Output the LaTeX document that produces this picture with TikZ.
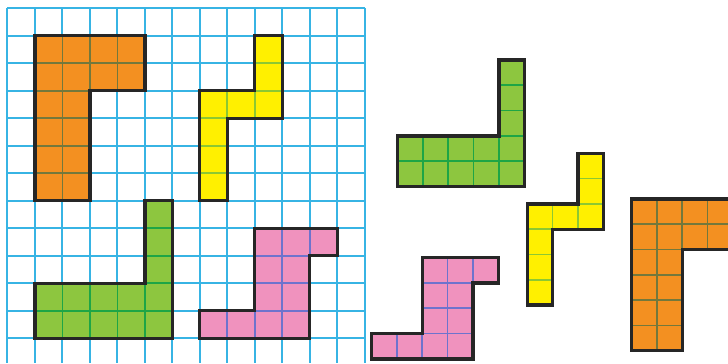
\documentclass[tikz,border=0pt]{standalone}
\usepackage{xcolor}
\usepackage{tikz}
\definecolor{GridBlue}{RGB}{55,180,228}
\definecolor{TanOrange}{RGB}{243,144,33}
\definecolor{TanOrangeLn}{RGB}{115,120,60}
\definecolor{TanYellow}{RGB}{255,240,0}
\definecolor{TanYellowLn}{RGB}{140,200,50}
\definecolor{TanGreen}{RGB}{141,198,63}
\definecolor{TanGreenLn}{RGB}{30,165,70}
\definecolor{TanPink}{RGB}{240,146,190}
\definecolor{TanPinkLn}{RGB}{110,115,205}

% one piece: points, fill, inner line colour, width, height (in cells)
\newcommand{\piece}[5]{%
  \fill[#2] plot coordinates {#1} -- cycle;
  \begin{scope}
    \clip plot coordinates {#1} -- cycle;
    \foreach \i in {1,...,#4} \draw[inner, #3] (\i,0) -- (\i,#5);
    \foreach \j in {1,...,#5} \draw[inner, #3] (0,\j) -- (#4,\j);
  \end{scope}
  \draw[edge] plot coordinates {#1} -- cycle;
}
\newcommand{\orangepiece}{\piece{(0,0) (4,0) (4,2) (2,2) (2,6) (0,6)}{TanOrange}{TanOrangeLn}{4}{6}}
\newcommand{\yellowpiece}{\piece{(2,0) (3,0) (3,3) (1,3) (1,6) (0,6) (0,2) (2,2)}{TanYellow}{TanYellowLn}{3}{6}}
\newcommand{\greenpiece}{\piece{(4,0) (5,0) (5,5) (0,5) (0,3) (4,3)}{TanGreen}{TanGreenLn}{5}{5}}
\newcommand{\pinkpiece}{\piece{(2,0) (5,0) (5,1) (4,1) (4,4) (0,4) (0,3) (2,3)}{TanPink}{TanPinkLn}{5}{4}}

\begin{document}
\begin{tikzpicture}[x=0.03cm, y=-0.03cm,
    gridline/.style={draw=GridBlue, line width=0.055cm},
    inner/.style={line width=0.05cm},
    edge/.style={draw=black!85, line width=0.1cm, line join=miter},
    big/.style={x=0.825cm, y=-0.825cm},
    small/.style={x=0.759cm, y=-0.759cm}
  ]
  \useasboundingbox (0,0) rectangle (728,363);

  % squared paper
  \foreach \i in {0,...,13}
    \draw[gridline] (7.3+27.5*\i, 8.3) -- (7.3+27.5*\i, 363);
  \foreach \j in {0,...,12}
    \draw[gridline] (7.3, 8.3+27.5*\j) -- (365, 8.3+27.5*\j);

  % pieces drawn on the grid
  \begin{scope}[shift={(35,35.8)}, big] \orangepiece \end{scope}
  \begin{scope}[shift={(199.8,35.8)}, big] \yellowpiece \end{scope}
  \begin{scope}[shift={(35,200.8)}, big] \greenpiece \end{scope}
  \begin{scope}[shift={(199.8,228.3)}, big] \pinkpiece \end{scope}

  % pieces cut out
  \begin{scope}[shift={(397.7,60)}, small] \greenpiece \end{scope}
  \begin{scope}[shift={(527.3,153.3)}, small] \yellowpiece \end{scope}
  \begin{scope}[shift={(631.7,199)}, small] \orangepiece \end{scope}
  \begin{scope}[shift={(371.7,257.7)}, small] \pinkpiece \end{scope}
\end{tikzpicture}
\end{document}
